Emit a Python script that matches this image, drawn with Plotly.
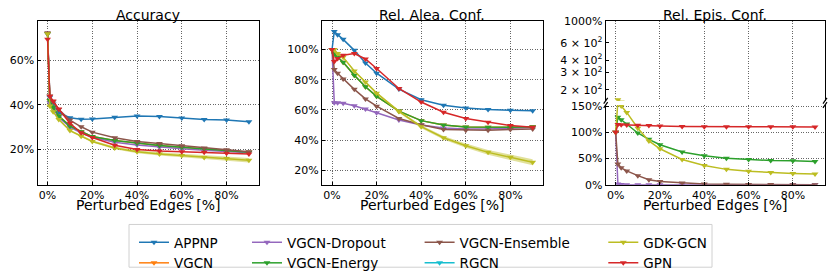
import math
import plotly.graph_objects as go

# ---------------- data (values in percent) ----------------
x_edges = [0, 0.01, 0.025, 0.05, 0.1, 0.15, 0.2, 0.3, 0.4, 0.5, 0.6, 0.7, 0.8, 0.9]

series_names = ["APPNP", "VGCN", "VGCN-Dropout", "VGCN-Energy",
                "VGCN-Ensemble", "RGCN", "GDK-GCN", "GPN"]
series_colors = ["#1f77b4", "#ff7f0e", "#9467bd", "#2ca02c",
                 "#8c564b", "#17becf", "#bcbd22", "#d62728"]

# Accuracy
acc_appnp = [72.0, 43.5, 40.5, 36.5, 34.3, 33.6, 33.7, 34.5, 35.0, 34.8, 34.1, 33.5, 33.2, 32.5]
acc_vgcn = [72.0, 42.0, 39.0, 35.0, 30.5, 28.0, 25.8, 24.0, 22.8, 21.8, 21.0, 20.2, 19.4, 18.8]
acc_dropout = [72.0, 41.0, 38.5, 34.5, 30.0, 27.5, 25.5, 23.3, 22.0, 21.0, 20.3, 19.6, 19.0, 18.5]
acc_energy = [72.0, 42.0, 39.0, 35.0, 30.5, 28.0, 25.8, 24.0, 22.8, 21.8, 21.0, 20.2, 19.4, 18.8]
acc_ensemble = [72.5, 44.0, 41.5, 38.0, 33.2, 30.2, 27.8, 25.3, 23.6, 22.7, 21.7, 20.7, 19.9, 19.0]
acc_rgcn = None
acc_gdk = [72.0, 39.5, 37.0, 33.5, 28.5, 26.0, 23.6, 20.7, 19.0, 18.0, 17.3, 16.4, 16.0, 15.2]
acc_gpn = [69.5, 43.9, 41.8, 38.2, 31.8, 27.5, 25.4, 21.9, 20.0, 19.3, 19.0, 18.7, 18.3, 18.0]
acc_gdk_std = [0.0, 0.3, 0.3, 0.3, 0.4, 0.5, 0.5, 0.6, 0.7, 0.7, 0.8, 0.8, 0.9, 1.0]

# Relative aleatoric confidence
alea_appnp = [100, 111.9, 109.8, 106.7, 99.4, 91.0, 84.3, 73.8, 66.7, 63.1, 61.3, 60.2, 59.8, 59.4]
alea_vgcn = [100, 97.0, 95.0, 91.5, 83.0, 75.3, 69.0, 59.2, 52.9, 50.0, 48.7, 48.5, 48.5, 48.9]
alea_dropout = [100, 64.8, 64.8, 64.4, 62.7, 60.6, 58.1, 53.3, 50.0, 48.1, 47.4, 47.4, 47.9, 48.3]
alea_energy = [100, 97.0, 95.0, 91.5, 83.0, 75.3, 69.0, 59.2, 52.9, 50.0, 48.7, 48.5, 48.5, 48.9]
alea_ensemble = [100, 86.8, 84.3, 80.5, 73.6, 67.3, 62.5, 54.3, 50.2, 47.0, 46.6, 46.6, 47.0, 47.4]
alea_rgcn = None
alea_gdk = [100, 100, 97.3, 94.8, 85.8, 78.4, 71.1, 59.0, 48.9, 41.6, 36.3, 31.9, 28.6, 25.4]
alea_gpn = [100, 92.0, 94.0, 96.2, 97.3, 93.7, 87.4, 74.2, 65.2, 58.5, 54.3, 51.8, 49.7, 48.5]
alea_gdk_std = [0.0, 0.3, 0.3, 0.4, 0.5, 0.6, 0.7, 0.8, 1.0, 1.2, 1.4, 1.6, 1.8, 2.0]

# Relative epistemic confidence
epis_appnp = None
epis_vgcn = None
epis_dropout = [100, 1.5, 0.5, 0.4, 0.3, 0.3, 0.3, 0.3, 0.3, 0.3, 0.3, 0.3, 0.3, 0.3]
epis_energy = [100, 129, 124, 115.7, 98.8, 86.7, 76.5, 62.7, 55.4, 50.6, 48.2, 46.4, 45.8, 44.6]
epis_ensemble = [100, 39.8, 32.5, 26.5, 17.5, 9.6, 6.6, 3.6, 1.8, 1.0, 0.7, 0.5, 0.4, 0.3]
epis_rgcn = None
epis_gdk = [100, 158, 150, 138, 108, 83.7, 68.7, 48.2, 36.7, 29.5, 25.9, 23.5, 21.7, 20.5]
epis_gpn = [100, 115, 114.5, 114, 113.5, 113, 112, 111, 110.5, 110.5, 110.5, 110.5, 110.5, 110]

x_tick_vals = [0, 0.2, 0.4, 0.6, 0.8]
acc_tick_vals = [0.2, 0.4, 0.6]
alea_tick_vals = [0.2, 0.4, 0.6, 0.8, 1.0]
epis_low_tick_vals = [0, 0.5, 1.0, 1.5]
epis_high_tick_vals = [2, 3, 4, 6, 10]
epis_high_tick_text = ["2 × 10<sup>2</sup>", "3 × 10<sup>2</sup>", "4 × 10<sup>2</sup>",
                       "6 × 10<sup>2</sup>", "1000%"]

panel_titles = ["Accuracy", "Rel. Alea. Conf.", "Rel. Epis. Conf."]
x_title = "Perturbed Edges [%]"

acc_data = [acc_appnp, acc_vgcn, acc_dropout, acc_energy, acc_ensemble, acc_rgcn, acc_gdk, acc_gpn]
alea_data = [alea_appnp, alea_vgcn, alea_dropout, alea_energy, alea_ensemble, alea_rgcn, alea_gdk, alea_gpn]
epis_data = [epis_appnp, epis_vgcn, epis_dropout, epis_energy, epis_ensemble, epis_rgcn, epis_gdk, epis_gpn]

legend_cols = ["legend", "legend", "legend2", "legend2", "legend3", "legend3", "legend4", "legend4"]

# ---------------- layout helpers ----------------
W, H = 830, 279
FONT = "DejaVu Sans"


def fx(p):
    return p / W


def fy(p):
    return 1 - p / H


def rgba(hexc, a):
    h = hexc.lstrip("#")
    return "rgba(%d,%d,%d,%.2f)" % (int(h[0:2], 16), int(h[2:4], 16), int(h[4:6], 16), a)


fig = go.Figure()

panels = [
    ("x", "y", acc_data, {6: acc_gdk_std}, True),
    ("x2", "y2", alea_data, {6: alea_gdk_std}, False),
    ("x3", "y3", epis_data, {}, False),
    ("x4", "y4", epis_data, {}, False),
]

for xa, ya, data, stds, show_leg in panels:
    for i, name in enumerate(series_names):
        vals = data[i]
        col = series_colors[i]
        if vals is None:
            if show_leg:
                fig.add_trace(go.Scatter(
                    x=[None], y=[None], mode="lines+markers", name=name,
                    line=dict(color=col, width=1.5),
                    marker=dict(symbol="triangle-down", size=6, color=col),
                    legend=legend_cols[i], showlegend=True, xaxis=xa, yaxis=ya))
            continue
        yv = [v / 100 for v in vals]
        if i in stds:
            sd = [s / 100 for s in stds[i]]
            fig.add_trace(go.Scatter(
                x=x_edges, y=[a + b for a, b in zip(yv, sd)], mode="lines",
                line=dict(width=0, color=col), showlegend=False, hoverinfo="skip",
                xaxis=xa, yaxis=ya))
            fig.add_trace(go.Scatter(
                x=x_edges, y=[a - b for a, b in zip(yv, sd)], mode="lines",
                line=dict(width=0, color=col), fill="tonexty",
                fillcolor=rgba(col, 0.45), showlegend=False, hoverinfo="skip",
                xaxis=xa, yaxis=ya))
        fig.add_trace(go.Scatter(
            x=x_edges, y=yv, mode="lines+markers", name=name,
            line=dict(color=col, width=1.5),
            marker=dict(symbol="triangle-down", size=6, color=col),
            legend=legend_cols[i], showlegend=show_leg,
            xaxis=xa, yaxis=ya))

axis_common = dict(
    showline=True, linecolor="black", linewidth=1.3, mirror=True,
    ticks="inside", ticklen=3, tickwidth=1, tickcolor="black",
    showgrid=True, gridcolor="#666666", griddash="1px,1.5px", gridwidth=0.9,
    zeroline=False, tickfont=dict(size=11, color="black", family=FONT),
)

top, bottom = 15.7, 188.3
p1 = (37.5, 259.0)
p2 = (322.0, 542.7)
p3 = (605.7, 825.0)
brk_hi, brk_lo = 99.7, 104.3

xr = [-0.045, 0.945]
xcommon = dict(axis_common, range=xr, tickvals=x_tick_vals, tickformat=".0%")

fig.update_layout(
    xaxis=dict(xcommon, domain=[fx(p1[0]), fx(p1[1])], anchor="y"),
    yaxis=dict(axis_common, domain=[fy(bottom), fy(top)], anchor="x",
               range=[0.041, 0.778], tickvals=acc_tick_vals, tickformat=".0%"),
    xaxis2=dict(xcommon, domain=[fx(p2[0]), fx(p2[1])], anchor="y2"),
    yaxis2=dict(axis_common, domain=[fy(bottom), fy(top)], anchor="x2",
                range=[0.104, 1.189], tickvals=alea_tick_vals, tickformat=".0%"),
    xaxis3=dict(xcommon, domain=[fx(p3[0]), fx(p3[1])], anchor="y3", mirror=False),
    yaxis3=dict(axis_common, domain=[fy(bottom), fy(brk_lo)], anchor="x3",
                range=[0, 1.52], tickvals=epis_low_tick_vals, tickformat=".0%"),
    xaxis4=dict(xcommon, domain=[fx(p3[0]), fx(p3[1])], anchor="y4", side="top",
                mirror=False, showticklabels=False, ticks=""),
    yaxis4=dict(axis_common, domain=[fy(brk_hi), fy(top)], anchor="x4", type="log",
                range=[math.log10(1.55), 1], tickvals=epis_high_tick_vals,
                ticktext=epis_high_tick_text, showgrid=False),
)

# legends: one per column
leg_x = [134, 247, 419.6, 603.3]
leg_top = 233
leg_common = dict(orientation="v", xanchor="left", yanchor="top", traceorder="normal",
                  bgcolor="rgba(0,0,0,0)", borderwidth=0, tracegroupgap=0,
                  font=dict(size=13.5, family=FONT, color="black"))
fig.update_layout(
    legend=dict(leg_common, x=fx(leg_x[0]), y=fy(leg_top)),
    legend2=dict(leg_common, x=fx(leg_x[1]), y=fy(leg_top)),
    legend3=dict(leg_common, x=fx(leg_x[2]), y=fy(leg_top)),
    legend4=dict(leg_common, x=fx(leg_x[3]), y=fy(leg_top)),
)

shapes = [
    dict(type="rect", xref="paper", yref="paper", x0=fx(129), x1=fx(712),
         y0=fy(275), y1=fy(230), line=dict(color="#d0d0d0", width=1),
         fillcolor="rgba(255,255,255,0)", layer="below"),
]
for xs in (p3[0], p3[1]):
    for ys in (brk_hi, brk_lo):
        shapes.append(dict(type="line", xref="paper", yref="paper",
                           x0=fx(xs - 2), y0=fy(ys + 3), x1=fx(xs + 2), y1=fy(ys - 3),
                           line=dict(color="black", width=1.2)))

annotations = []
for title, (a, b) in zip(panel_titles, [p1, p2, p3]):
    annotations.append(dict(text=title, x=fx((a + b) / 2), y=fy(9.5), xref="paper",
                            yref="paper", xanchor="center", yanchor="middle",
                            showarrow=False, font=dict(size=14, family=FONT, color="black")))
    annotations.append(dict(text=x_title, x=fx((a + b) / 2), y=fy(209.5), xref="paper",
                            yref="paper", xanchor="center", yanchor="middle",
                            showarrow=False, font=dict(size=14, family=FONT, color="black")))

fig.update_layout(
    width=W, height=H,
    margin=dict(l=0, r=0, t=0, b=0),
    paper_bgcolor="white", plot_bgcolor="white",
    font=dict(family=FONT, color="black"),
    shapes=shapes, annotations=annotations,
    showlegend=True,
)

fig.write_html("out.html", config={"displayModeBar": False},
               post_script="document.body.style.margin='0px';document.body.style.overflow='hidden';")
